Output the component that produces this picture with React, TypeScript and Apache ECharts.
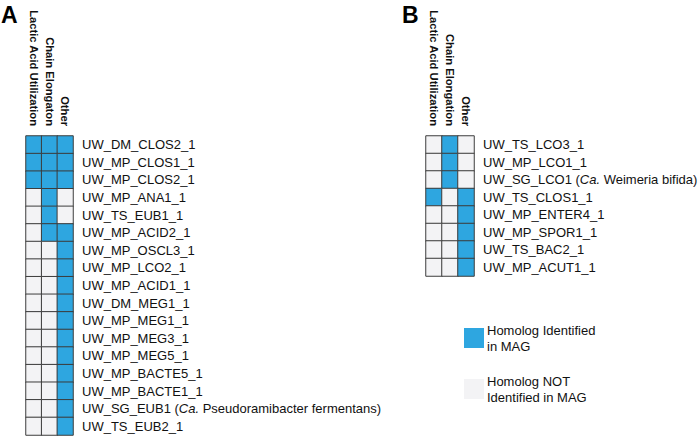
import React, { useEffect, useRef } from "react";
import * as echarts from "echarts";

const colsA = ["Lactic Acid Utilization", "Chain Elongaton", "Other"];
const colsB = ["Lactic Acid Utilization", "Chain Elongation", "Other"];

const rowsA = [
  "UW_DM_CLOS2_1",
  "UW_MP_CLOS1_1",
  "UW_MP_CLOS2_1",
  "UW_MP_ANA1_1",
  "UW_TS_EUB1_1",
  "UW_MP_ACID2_1",
  "UW_MP_OSCL3_1",
  "UW_MP_LCO2_1",
  "UW_MP_ACID1_1",
  "UW_DM_MEG1_1",
  "UW_MP_MEG1_1",
  "UW_MP_MEG3_1",
  "UW_MP_MEG5_1",
  "UW_MP_BACTE5_1",
  "UW_MP_BACTE1_1",
  "UW_SG_EUB1 (Ca. Pseudoramibacter fermentans)",
  "UW_TS_EUB2_1",
];
// presence per row: [Lactic, Chain, Other]
const valuesA = [
  [1, 1, 1],
  [1, 1, 1],
  [1, 1, 1],
  [0, 1, 0],
  [0, 1, 0],
  [0, 1, 1],
  [0, 0, 1],
  [0, 0, 1],
  [0, 0, 1],
  [0, 0, 1],
  [0, 0, 1],
  [0, 0, 1],
  [0, 0, 1],
  [0, 0, 1],
  [0, 0, 1],
  [0, 0, 1],
  [0, 0, 1],
];

const rowsB = [
  "UW_TS_LCO3_1",
  "UW_MP_LCO1_1",
  "UW_SG_LCO1 (Ca. Weimeria bifida)",
  "UW_TS_CLOS1_1",
  "UW_MP_ENTER4_1",
  "UW_MP_SPOR1_1",
  "UW_TS_BAC2_1",
  "UW_MP_ACUT1_1",
];
const valuesB = [
  [0, 1, 0],
  [0, 1, 0],
  [0, 1, 0],
  [1, 0, 1],
  [0, 0, 1],
  [0, 0, 1],
  [0, 0, 1],
  [0, 0, 1],
];

const legendLabels = ["Homolog Identified\nin MAG", "Homolog NOT\nIdentified in MAG"];

const BLUE = "#2EA6E0";
const GRAY = "#F3F3F5";
const FONT = "'Liberation Sans', Arial, Helvetica, sans-serif";

function toCells(values: number[][]) {
  const out: number[][] = [];
  values.forEach((row, r) => row.forEach((v, c) => out.push([c, r, v])));
  return out;
}

function rowFormatter(name: string) {
  const idx = name.indexOf("Ca.");
  if (idx < 0) return "{n|" + name + "}";
  return "{n|" + name.slice(0, idx) + "}{i|Ca.}{n|" + name.slice(idx + 3) + "}";
}

const rich = {
  n: { fontSize: 13, fontFamily: FONT, color: "#111" },
  i: { fontSize: 13, fontFamily: FONT, color: "#111", fontStyle: "italic" },
};

export default function App() {
  const ref = useRef<HTMLDivElement>(null);
  useEffect(() => {
    if (!ref.current) return;
    const chart = echarts.init(ref.current, undefined, { renderer: "svg" });
    const xAxisBase = (data: string[], gridIndex: number) => ({
      type: "category",
      gridIndex,
      data,
      position: "top",
      axisLine: { show: false },
      axisTick: { show: false },
      splitLine: { show: false },
      axisLabel: {
        rotate: 90,
        margin: 10,
        interval: 0,
        formatter: (v: string) => "{c|" + v + "}",
        rich: {
          c: { fontSize: 11.2, fontWeight: "bold", fontFamily: FONT, color: "#111", width: 125, align: "right" },
        },
        overflow: "none",
      },
    });
    const yAxisBase = (data: string[], gridIndex: number) => ({
      type: "category",
      gridIndex,
      data,
      inverse: true,
      position: "right",
      axisLine: { show: false },
      axisTick: { show: false },
      splitLine: { show: false },
      axisLabel: {
        margin: 9,
        interval: 0,
        formatter: rowFormatter,
        rich,
      },
    });
    const cellStyle = { borderColor: "#3c3c3c", borderWidth: 1 };
    chart.setOption({
      animation: false,
      backgroundColor: "#ffffff",
      grid: [
        { left: 26, top: 136, width: 47, height: 299, containLabel: false, outerBoundsMode: "none" },
        { left: 426, top: 136, width: 48, height: 140, containLabel: false, outerBoundsMode: "none" },
      ],
      xAxis: [xAxisBase(colsA, 0), xAxisBase(colsB, 1)],
      yAxis: [yAxisBase(rowsA, 0), yAxisBase(rowsB, 1)],
      visualMap: {
        type: "piecewise",
        seriesIndex: [0, 1],
        dimension: 2,
        orient: "vertical",
        left: 449,
        top: 307,
        itemWidth: 20,
        itemHeight: 20,
        itemGap: 19,
        itemSymbol: "rect",
        align: "left",
        showLabel: true,
        textGap: 3,
        selectedMode: false,
        textStyle: { fontSize: 13, fontFamily: FONT, color: "#111", lineHeight: 16 },
        pieces: [
          { value: 1, label: legendLabels[0], color: BLUE },
          { value: 0, label: legendLabels[1], color: GRAY },
        ],
      },
      graphic: [
        {
          type: "text",
          left: 1,
          top: 3,
          style: { text: "A", fontSize: 23, fontWeight: "bold", fontFamily: FONT, fill: "#000" },
        },
        {
          type: "text",
          left: 402,
          top: 3,
          style: { text: "B", fontSize: 23, fontWeight: "bold", fontFamily: FONT, fill: "#000" },
        },
      ],
      series: [
        {
          type: "heatmap",
          xAxisIndex: 0,
          yAxisIndex: 0,
          data: toCells(valuesA),
          itemStyle: cellStyle,
          emphasis: { disabled: true },
        },
        {
          type: "heatmap",
          xAxisIndex: 1,
          yAxisIndex: 1,
          data: toCells(valuesB),
          itemStyle: cellStyle,
          emphasis: { disabled: true },
        },
      ],
    });
    return () => chart.dispose();
  }, []);
  return (
    <div
      ref={ref}
      style={{ position: "fixed", left: 0, top: 0, width: 699, height: 436, background: "#fff" }}
    />
  );
}
